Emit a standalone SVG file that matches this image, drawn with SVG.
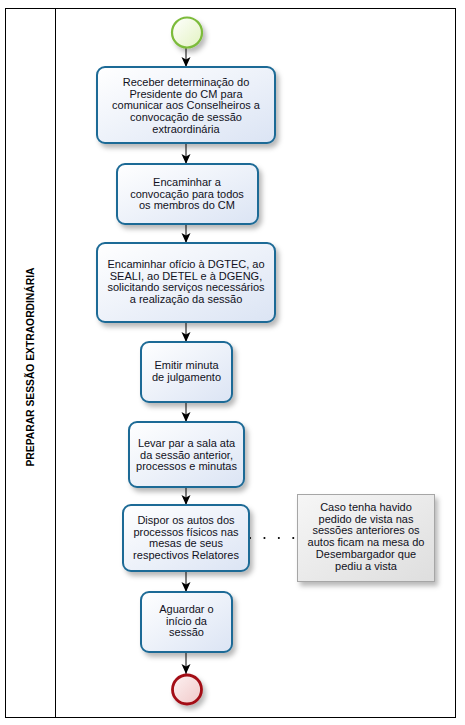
<svg xmlns="http://www.w3.org/2000/svg" width="465" height="725" viewBox="0 0 465 725">
<style>
.task{fill:url(#gTask);stroke:#1f6b96;stroke-width:2;filter:url(#sh)}
.t{font-family:"Liberation Sans",Arial,sans-serif;font-size:11px;fill:#111122;text-anchor:middle}
.lane{fill:none;stroke:#000;stroke-width:1}
.flow{stroke:#000;stroke-width:1;fill:none;marker-end:url(#arr)}
</style>
<defs>
<linearGradient id="gTask" x1="0" y1="0" x2="1" y2="1">
<stop offset="0" stop-color="#ffffff"/><stop offset="1" stop-color="#dbe4f4"/>
</linearGradient>
<linearGradient id="gStart" x1="0" y1="0" x2="1" y2="1">
<stop offset="0" stop-color="#ffffff"/><stop offset="1" stop-color="#e2f2c0"/>
</linearGradient>
<linearGradient id="gEnd" x1="0" y1="0" x2="1" y2="1">
<stop offset="0" stop-color="#fdf2f2"/><stop offset="1" stop-color="#f0c8c8"/>
</linearGradient>
<linearGradient id="gNote" x1="0" y1="0" x2="1" y2="1">
<stop offset="0" stop-color="#f6f6f6"/><stop offset="1" stop-color="#dedede"/>
</linearGradient>
<filter id="sh" x="-20%" y="-20%" width="150%" height="150%">
<feDropShadow dx="3" dy="4" stdDeviation="2.5" flood-color="#000" flood-opacity="0.28"/>
</filter>
<marker id="arr" markerUnits="userSpaceOnUse" markerWidth="11" markerHeight="10" refX="10" refY="5" orient="auto">
<path d="M0,0.5 L10,5 L0,9.5 L2.5,5 z" fill="#000"/>
</marker>
</defs>

<g id="pool">
<rect class="lane" x="5.5" y="8.5" width="450" height="709"/>
<line class="lane" x1="55.5" y1="8.5" x2="55.5" y2="717.5"/>
<text transform="translate(34,367) rotate(-90)" font-family="'Liberation Sans',Arial,sans-serif" font-size="11" font-weight="bold" text-anchor="middle" fill="#000" textLength="199" lengthAdjust="spacingAndGlyphs">PREPARAR SESSÃO EXTRAORDINÁRIA</text>
</g>

<g id="connectors">
<line class="flow" x1="186" y1="48" x2="186" y2="67"/>
<line class="flow" x1="186" y1="143" x2="186" y2="164"/>
<line class="flow" x1="186" y1="224" x2="186" y2="243"/>
<line class="flow" x1="186" y1="322" x2="186" y2="342"/>
<line class="flow" x1="186" y1="402" x2="186" y2="422"/>
<line class="flow" x1="186" y1="487" x2="186" y2="505"/>
<line class="flow" x1="186" y1="571" x2="186" y2="592"/>
<line class="flow" x1="186" y1="652" x2="186" y2="674"/>
<line x1="250" y1="538" x2="297" y2="538" stroke="#000" stroke-width="2" stroke-linecap="round" stroke-dasharray="0.1,14.3"/>
</g>

<g id="start">
<circle cx="187" cy="32.5" r="15" fill="url(#gStart)" stroke="#7cbb3a" stroke-width="2.2" filter="url(#sh)"/>
</g>

<g id="task1">
<rect class="task" x="97" y="67" width="178" height="76" rx="8"/>
<text class="t" x="186" y="86"><tspan x="186">Receber determinação do</tspan><tspan x="186" dy="11.7">Presidente do CM para</tspan><tspan x="186" dy="11.7">comunicar aos Conselheiros a</tspan><tspan x="186" dy="11.7">convocação de sessão</tspan><tspan x="186" dy="11.7">extraordinária</tspan></text>
</g>

<g id="task2">
<rect class="task" x="117" y="164" width="141" height="60" rx="8"/>
<text class="t" x="187" y="186"><tspan x="187">Encaminhar a</tspan><tspan x="187" dy="11.7">convocação para todos</tspan><tspan x="187" dy="11.7">os membros do CM</tspan></text>
</g>

<g id="task3">
<rect class="task" x="97" y="243" width="178" height="79" rx="8"/>
<text class="t" x="186" y="268"><tspan x="186">Encaminhar ofício à DGTEC, ao</tspan><tspan x="186" dy="11.7">SEALI, ao DETEL e à DGENG,</tspan><tspan x="186" dy="11.7">solicitando serviços necessários</tspan><tspan x="186" dy="11.7">a realização da sessão</tspan></text>
</g>

<g id="task4">
<rect class="task" x="141" y="342" width="91" height="60" rx="8"/>
<text class="t" x="186.5" y="369"><tspan x="186.5">Emitir minuta</tspan><tspan x="186.5" dy="11.7">de julgamento</tspan></text>
</g>

<g id="task5">
<rect class="task" x="129" y="422" width="115" height="65" rx="8"/>
<text class="t" x="186.5" y="447"><tspan x="186.5">Levar par a sala ata</tspan><tspan x="186.5" dy="11.7">da sessão anterior,</tspan><tspan x="186.5" dy="11.7">processos e minutas</tspan></text>
</g>

<g id="task6">
<rect class="task" x="123" y="505" width="126" height="66" rx="8"/>
<text class="t" x="186" y="524"><tspan x="186">Dispor os autos dos</tspan><tspan x="186" dy="11.7">processos físicos nas</tspan><tspan x="186" dy="11.7">mesas de seus</tspan><tspan x="186" dy="11.7">respectivos Relatores</tspan></text>
</g>

<g id="task7">
<rect class="task" x="141" y="592" width="91" height="60" rx="8"/>
<text class="t" x="186.5" y="613"><tspan x="186.5">Aguardar o</tspan><tspan x="186.5" dy="11.7">início da</tspan><tspan x="186.5" dy="11.7">sessão</tspan></text>
</g>

<g id="end">
<circle cx="187" cy="689.5" r="14.5" fill="url(#gEnd)" stroke="#a30f14" stroke-width="2.8" filter="url(#sh)"/>
</g>

<g id="note">
<rect x="297.5" y="494.5" width="137" height="87" fill="url(#gNote)" stroke="#a6a6a6" stroke-width="1" filter="url(#sh)"/>
<text class="t" x="366" y="511"><tspan x="366">Caso tenha havido</tspan><tspan x="366" dy="11.7">pedido de vista nas</tspan><tspan x="366" dy="11.7">sessões anteriores os</tspan><tspan x="366" dy="11.7">autos ficam na mesa do</tspan><tspan x="366" dy="11.7">Desembargador que</tspan><tspan x="366" dy="11.7">pediu a vista</tspan></text>
</g>
</svg>
